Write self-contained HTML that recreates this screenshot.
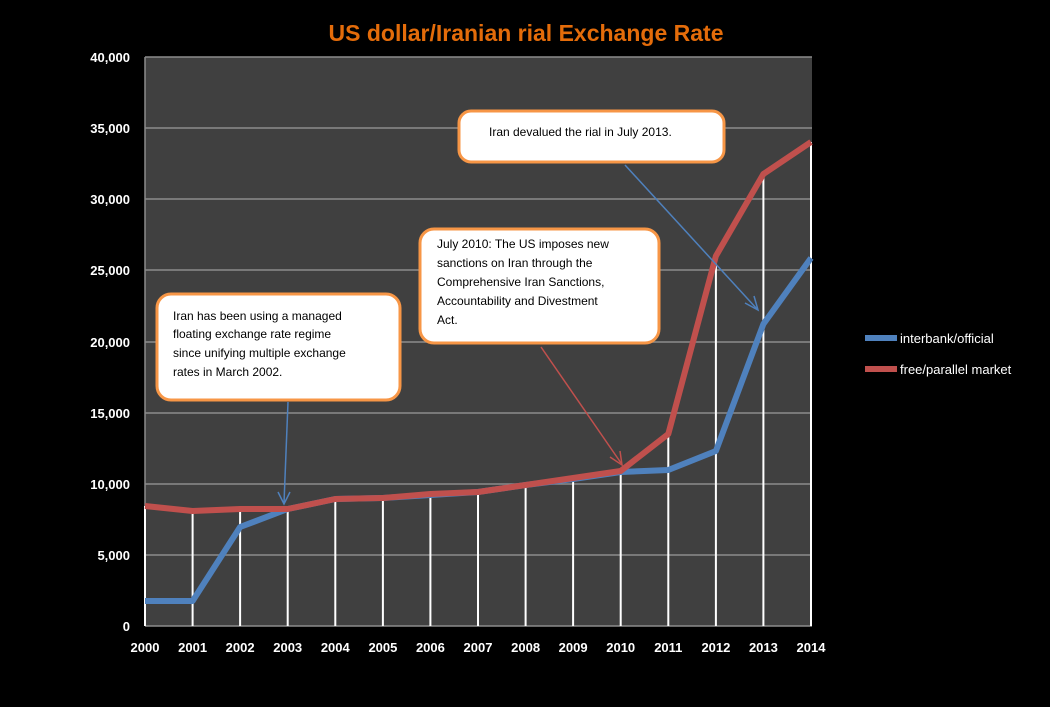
<!DOCTYPE html>
<html><head><meta charset="utf-8"><style>
body{margin:0;background:#000;}
svg{display:block;font-family:"Liberation Sans",sans-serif;}
</style></head><body>
<svg width="1050" height="707" xmlns="http://www.w3.org/2000/svg">
<rect width="1050" height="707" fill="#000"/>
<text x="526" y="41" text-anchor="middle" font-size="23" font-weight="bold" fill="#E46C0A">US dollar/Iranian rial Exchange Rate</text>
<rect x="145" y="57" width="667" height="569" fill="#404040"/>
<g stroke="#8c8c8c" stroke-width="1.5">
<line x1="145" x2="812" y1="57" y2="57"/><line x1="145" x2="812" y1="128" y2="128"/>
<line x1="145" x2="812" y1="199" y2="199"/><line x1="145" x2="812" y1="270" y2="270"/>
<line x1="145" x2="812" y1="342" y2="342"/><line x1="145" x2="812" y1="413" y2="413"/>
<line x1="145" x2="812" y1="484" y2="484"/><line x1="145" x2="812" y1="555" y2="555"/>
</g>
<line x1="145" y1="57" x2="145" y2="626" stroke="#8c8c8c" stroke-width="1.5"/>
<line x1="145" y1="626" x2="812" y2="626" stroke="#8c8c8c" stroke-width="1.5"/>
<g stroke="#fff" stroke-width="2">
<line x1="145" y1="506" x2="145" y2="626"/><line x1="192.6" y1="511" x2="192.6" y2="626"/>
<line x1="240.1" y1="509" x2="240.1" y2="626"/><line x1="287.7" y1="509" x2="287.7" y2="626"/>
<line x1="335.3" y1="499" x2="335.3" y2="626"/><line x1="382.9" y1="498" x2="382.9" y2="626"/>
<line x1="430.4" y1="494" x2="430.4" y2="626"/><line x1="478" y1="492" x2="478" y2="626"/>
<line x1="525.6" y1="485" x2="525.6" y2="626"/><line x1="573.1" y1="478" x2="573.1" y2="626"/>
<line x1="620.7" y1="471" x2="620.7" y2="626"/><line x1="668.3" y1="434" x2="668.3" y2="626"/>
<line x1="715.9" y1="256" x2="715.9" y2="626"/><line x1="763.4" y1="174" x2="763.4" y2="626"/>
<line x1="811" y1="142" x2="811" y2="626"/>
</g>
<polyline fill="none" stroke="#4F81BD" stroke-width="6" stroke-linejoin="round" points="145,601 192.6,601 240.1,527 287.7,509 335.3,499 382.9,498 430.4,495 478,492 525.6,485 573.1,479 620.7,472 668.3,470 715.9,451 763.4,324 811,258"/>
<polyline fill="none" stroke="#C0504D" stroke-width="6" stroke-linejoin="round" points="145,506 192.6,511 240.1,509 287.7,509 335.3,499 382.9,498 430.4,494 478,492 525.6,485 573.1,478 620.7,471 668.3,434 715.9,256 763.4,174 811,142"/>
<g font-size="13" font-weight="bold" fill="#fff" text-anchor="end">
<text x="130" y="62">40,000</text><text x="130" y="133">35,000</text><text x="130" y="204">30,000</text>
<text x="130" y="275">25,000</text><text x="130" y="347">20,000</text><text x="130" y="418">15,000</text>
<text x="130" y="489">10,000</text><text x="130" y="560">5,000</text><text x="130" y="631">0</text>
</g>
<g font-size="13" font-weight="bold" fill="#fff" text-anchor="middle">
<text x="145" y="652">2000</text><text x="192.6" y="652">2001</text><text x="240.1" y="652">2002</text>
<text x="287.7" y="652">2003</text><text x="335.3" y="652">2004</text><text x="382.9" y="652">2005</text>
<text x="430.4" y="652">2006</text><text x="478" y="652">2007</text><text x="525.6" y="652">2008</text>
<text x="573.1" y="652">2009</text><text x="620.7" y="652">2010</text><text x="668.3" y="652">2011</text>
<text x="715.9" y="652">2012</text><text x="763.4" y="652">2013</text><text x="811" y="652">2014</text>
</g>
<line x1="865" y1="338" x2="897" y2="338" stroke="#4F81BD" stroke-width="6"/>
<line x1="865" y1="369" x2="897" y2="369" stroke="#C0504D" stroke-width="6"/>
<text x="900" y="343" font-size="13" fill="#fff">interbank/official</text>
<text x="900" y="374" font-size="13" fill="#fff">free/parallel market</text>
<g stroke-width="1.5" fill="none">
<line x1="288" y1="402" x2="284" y2="503" stroke="#4F81BD"/>
<polyline points="278,492 284,504 290,492" stroke="#4F81BD"/>
<line x1="541" y1="347" x2="621" y2="463" stroke="#C0504D"/>
<polyline points="610,457 622,465 620,451" stroke="#C0504D"/>
<line x1="625" y1="165" x2="757" y2="309" stroke="#4F81BD"/>
<polyline points="745,303 758,310 754,296" stroke="#4F81BD"/>
</g>
<g fill="#fff" stroke="#F79646" stroke-width="3">
<rect x="157" y="294" width="243" height="106" rx="14"/>
<rect x="420" y="229" width="239" height="114" rx="14"/>
<rect x="459" y="111" width="265" height="51" rx="12"/>
</g>
<g font-size="12" fill="#000">
<text x="173" y="320">Iran has been using a managed</text>
<text x="173" y="338">floating exchange rate regime</text>
<text x="173" y="357">since unifying multiple exchange</text>
<text x="173" y="376">rates in March 2002.</text>
<text x="437" y="248">July 2010: The US imposes new</text>
<text x="437" y="267">sanctions on Iran through the</text>
<text x="437" y="286">Comprehensive Iran Sanctions,</text>
<text x="437" y="305">Accountability and Divestment</text>
<text x="437" y="324">Act.</text>
<text x="489" y="136">Iran devalued the rial in July 2013.</text>
</g>
</svg>
</body></html>
